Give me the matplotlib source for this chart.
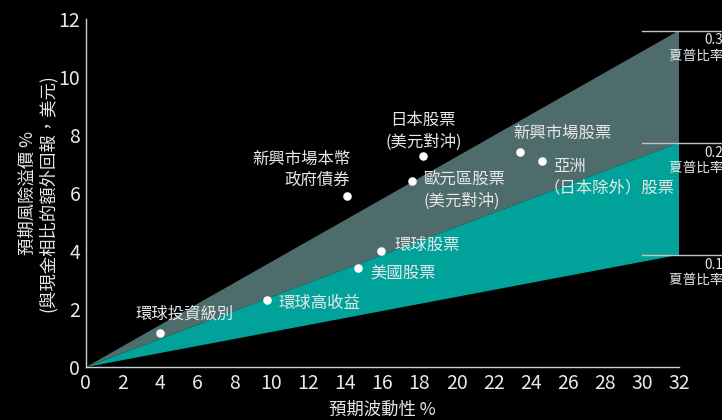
import matplotlib

matplotlib.use("Agg")
import matplotlib.pyplot as plt
import numpy as np

plt.rcParams["font.family"] = ["Noto Sans CJK TC", "DejaVu Sans"]

# asset classes: expected volatility (%) and expected risk premium (%)
ASSETS = ["環球投資級別", "環球高收益", "美國股票", "環球股票", "新興市場本幣\n政府債券",
          "歐元區股票\n(美元對沖)", "日本股票\n(美元對沖)", "新興市場股票", "亞洲\n（日本除外）股票"]
VOLATILITY = [4.0, 9.75, 14.7, 15.9, 14.1, 17.6, 18.2, 23.4, 24.6]
PREMIUM = [1.17, 2.3, 3.4, 4.0, 5.88, 6.41, 7.29, 7.41, 7.1]

# sharpe ratio bands, premium reached at the right edge (volatility 32)
SHARPE_LABELS = ["0.3", "0.2", "0.1"]
BAND_END = [11.6, 7.73, 3.87]
X_MAX = 32

X_TICKS = list(range(0, 33, 2))
Y_TICKS = list(range(0, 13, 2))

TEXT = "#e8e8e8"
GREY = "#4e6c6c"
TEAL = "#00a29a"

fig = plt.figure(figsize=(7.22, 4.2), dpi=100, facecolor="black")
ax = fig.add_axes([0.119, 0.126, 0.8215, 0.829], facecolor="black")

ax.fill([0, X_MAX, X_MAX], [0, BAND_END[0], BAND_END[1]], color=GREY, lw=0)
ax.fill([0, X_MAX, X_MAX], [0, BAND_END[1], BAND_END[2]], color=TEAL, lw=0)

ax.scatter(VOLATILITY, PREMIUM, s=38, color="white", zorder=3, lw=0)

# label placement: (dx, dy) in data units, alignment, extra shift of later lines
label_pos = [
    (1.35, 0.38, "center", "bottom", 0.0),
    (0.66, -0.1, "left", "center", 0.0),
    (0.65, -0.14, "left", "center", 0.0),
    (0.75, 0.2, "left", "center", 0.0),
    (0.15, 0.25, "right", "bottom", 0.0),
    (0.6, -0.34, "left", "center", 0.0),
    (0.0, 0.18, "center", "bottom", 0.0),
    (-0.32, 0.65, "left", "center", 0.0),
    (0.62, -0.55, "left", "center", -0.55),
]
LINE_GAP = 0.74  # data units between label lines
for name, x, y, (dx, dy, ha, va, shift) in zip(ASSETS, VOLATILITY, PREMIUM, label_pos):
    lines = name.split("\n")
    n = len(lines)
    if va == "bottom":
        y0 = y + dy + (n - 1) * LINE_GAP
    else:
        y0 = y + dy + (n - 1) * LINE_GAP / 2
    for i, line in enumerate(lines):
        ax.text(x + dx + (shift if i > 0 else 0), y0 - i * LINE_GAP, line, color=TEXT,
                fontsize=11.8, ha=ha, va=va if va == "center" else "bottom")

for label, yend in zip(SHARPE_LABELS, BAND_END):
    ax.plot([30.0, 34.5], [yend, yend], color="#c4c4c4", lw=1, clip_on=False)
    ax.annotate(f"{label}\n夏普比率", xy=(1.0, yend), xycoords=("figure fraction", "data"),
                xytext=(1, -2), textcoords="offset points", ha="right", va="top",
                color=TEXT, fontsize=9.8, linespacing=1.15, annotation_clip=False)

ax.set_xlim(0, X_MAX)
ax.set_ylim(0, 12)
ax.set_xticks(X_TICKS)
ax.set_yticks(Y_TICKS)
ax.tick_params(length=0, colors=TEXT, labelsize=14, pad=4)
for lbl in ax.get_xticklabels() + ax.get_yticklabels():
    lbl.set_family(["Liberation Sans Narrow", "Noto Sans CJK TC"])
for side in ("top", "right"):
    ax.spines[side].set_visible(False)
for side in ("left", "bottom"):
    ax.spines[side].set_color("#cfcfcf")
    ax.spines[side].set_linewidth(1)

ax.set_xlabel("預期波動性 %", color=TEXT, fontsize=12.5, labelpad=5)
ax.set_ylabel("預期風險溢價 %\n(與現金相比的額外回報，美元)", color=TEXT, fontsize=12.5,
              labelpad=1.5, linespacing=1.1)

fig.savefig("out.png", dpi=100, facecolor="black")
